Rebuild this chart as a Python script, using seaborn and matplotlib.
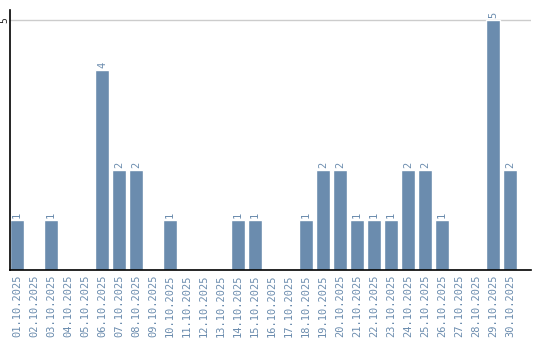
import matplotlib
matplotlib.use("Agg")
import matplotlib.pyplot as plt
import seaborn as sns
import pandas as pd

dates = [f"{d:02d}.10.2025" for d in range(1, 31)]
counts = [1, 0, 1, 0, 0, 4, 2, 2, 0, 1,
          0, 0, 0, 1, 1, 0, 0, 1, 2, 2,
          1, 1, 1, 2, 2, 1, 0, 0, 5, 2]

df = pd.DataFrame({"date": dates, "count": counts})

sns.set_style("white")
plt.rcParams['font.family'] = ['DejaVu Sans Mono', 'DejaVu Sans']

fig = plt.figure(figsize=(5.4, 3.4), dpi=100)
ax = fig.add_axes([10/540, 1-270/340, (531-10)/540, 260/340])

color = "#6b8cae"
sns.barplot(data=df, x="date", y="count", order=dates, color=color,
            width=0.82, saturation=1, ax=ax, errorbar=None)

for bar, v in zip(ax.patches, counts):
    if v > 0:
        ax.text(bar.get_x() + bar.get_width()/2, v + 0.04, str(v),
                rotation=90, ha="center", va="bottom", fontsize=7.5, color=color)

ax.set_xlim(-0.41, 30.24)
ax.set_ylim(0, 5.2)
ax.set_yticks([5])
ax.set_yticklabels(["5"], rotation=90, va="center", fontsize=7)
ax.tick_params(axis="y", length=0, pad=0.5)
ax.tick_params(axis="x", length=0, pad=3, labelrotation=90, labelsize=7.5, labelcolor=color)
ax.grid(axis="y", color="#cccccc", linewidth=1)
ax.set_axisbelow(True)
ax.set_xlabel("")
ax.set_ylabel("")
for s in ["top", "right"]:
    ax.spines[s].set_visible(False)
for s in ["left", "bottom"]:
    ax.spines[s].set_color("black")
    ax.spines[s].set_linewidth(1.2)

fig.savefig("out.png", dpi=100)
